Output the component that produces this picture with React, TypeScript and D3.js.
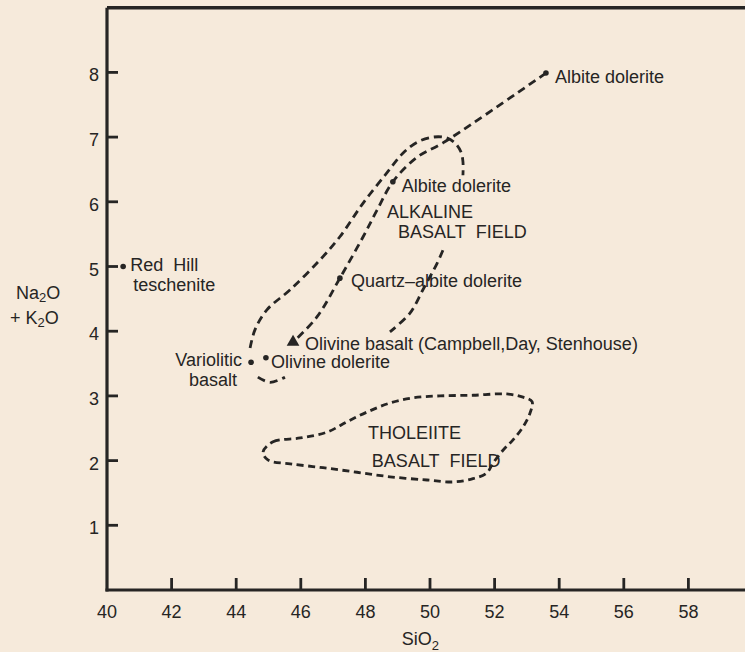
import React from "react";
import * as d3 from "d3";

// axis ticks
const siO2Ticks = [40, 42, 44, 46, 48, 50, 52, 54, 56, 58];
const alkaliTicks = [1, 2, 3, 4, 5, 6, 7, 8];

// analysed rocks (SiO2 %, Na2O + K2O %)
const sampleNames = [
  "Red Hill teschenite",
  "Albite dolerite",
  "Albite dolerite",
  "Quartz\u2013albite dolerite",
  "Olivine basalt (Campbell,Day, Stenhouse)",
  "Olivine dolerite",
  "Variolitic basalt",
];
const sampleSiO2 = [40.5, 53.59, 48.85, 47.21, 45.76, 44.92, 44.46];
const sampleAlkali = [5.0, 7.99, 6.31, 4.82, 3.83, 3.59, 3.52];
const sampleMarker = ["dot", "dot", "dot", "dot", "triangle", "dot", "dot"];

// dashed trend through the differentiated rocks
const trendLine: [number, number][] = [
  [53.59, 7.99], [50.4, 6.91], [49.6, 6.69], [48.85, 6.31], [48.36, 5.87],
  [47.93, 5.46], [47.21, 4.82], [46.5, 4.22], [45.76, 3.83],
];

// alkaline basalt field outline (broken where labels sit)
const alkalineLeft: [number, number][] = [
  [44.43, 3.74], [44.58, 4.02], [44.95, 4.33], [45.67, 4.64], [46.59, 5.1],
  [47.21, 5.46], [47.93, 5.98], [48.67, 6.45], [49.16, 6.75], [49.6, 6.92],
  [50.09, 7.0], [50.5, 6.99], [50.77, 6.91], [50.96, 6.77], [51.02, 6.62],
  [51.02, 6.41],
];
const alkalineRight: [number, number][] = [
  [50.4, 5.25], [50.22, 5.05], [49.78, 4.64], [49.38, 4.28], [48.76, 3.99],
];
const alkalineBottom: [number, number][] = [
  [44.67, 3.29], [45.05, 3.21], [45.51, 3.29],
];

// tholeiite basalt field outline (closed)
const tholeiiteField: [number, number][] = [
  [44.83, 2.13], [45.14, 2.29], [45.98, 2.35], [46.81, 2.44], [47.43, 2.6],
  [48.05, 2.75], [48.76, 2.89], [49.47, 2.97], [50.31, 3.0], [51.33, 3.01],
  [52.38, 3.03], [52.88, 2.98], [53.16, 2.91], [53.1, 2.74], [52.88, 2.52],
  [52.57, 2.32], [52.26, 2.16], [51.95, 1.96], [51.76, 1.81], [51.33, 1.72],
  [50.71, 1.67], [49.91, 1.7], [48.76, 1.75], [47.74, 1.82], [46.69, 1.89],
  [45.67, 1.95], [44.98, 2.01],
];

const width = 745;
const height = 652;
const ink = "#262524";
const font = "'Liberation Sans', Arial, sans-serif";

export default function App() {
  const x = d3.scaleLinear().domain([40, 60]).range([107, 753]);
  const y = d3.scaleLinear().domain([0, 9]).range([590, 7.7]);

  const open = d3
    .line<[number, number]>()
    .x((d) => x(d[0]))
    .y((d) => y(d[1]))
    .curve(d3.curveCatmullRom);
  const closed = d3
    .line<[number, number]>()
    .x((d) => x(d[0]))
    .y((d) => y(d[1]))
    .curve(d3.curveCatmullRomClosed);

  const triangle = d3.symbol(d3.symbolTriangle, 70)();

  // label offsets from each point (px)
  const offsets = [
    { dx: 7, dy: 4 },
    { dx: 9, dy: 9.5 },
    { dx: 9, dy: 10 },
    { dx: 11, dy: 9 },
    { dx: 12, dy: 8 },
    { dx: 5, dy: 10 },
    { dx: -9, dy: 3.5 },
  ];

  const dash = { fill: "none", stroke: ink, strokeWidth: 2.8, strokeDasharray: "8 5" };

  return (
    <svg
      width={width}
      height={height}
      style={{ position: "absolute", left: 0, top: 0, background: "#f6eadb" }}
      fontFamily={font}
      fontSize={18}
      fill={ink}
    >
      {/* frame: top line and axes */}
      <line x1={x(40)} x2={width} y1={y(9)} y2={y(9)} stroke={ink} strokeWidth={3.5} />
      <line x1={x(40)} x2={x(40)} y1={y(9)} y2={y(0) + 1.5} stroke={ink} strokeWidth={3.2} />
      <line x1={x(40) - 1.5} x2={width} y1={y(0)} y2={y(0)} stroke={ink} strokeWidth={3.2} />

      {siO2Ticks.map((t) => (
        <g key={"x" + t}>
          {t > 40 && (
            <line x1={x(t)} x2={x(t)} y1={y(0)} y2={y(0) - 12} stroke={ink} strokeWidth={2.8} />
          )}
          <text x={x(t)} y={y(0) + 28} textAnchor="middle">
            {t}
          </text>
        </g>
      ))}
      {alkaliTicks.map((t) => (
        <g key={"y" + t}>
          <line x1={x(40)} x2={x(40) + 11} y1={y(t)} y2={y(t)} stroke={ink} strokeWidth={2.8} />
          <text x={x(40) - 8} y={y(t) + 9} textAnchor="end">
            {t}
          </text>
        </g>
      ))}

      {/* axis titles */}
      <text x={x(49.7)} y={645} textAnchor="middle">
        SiO
        <tspan fontSize={13} dy={5}>2</tspan>
      </text>
      <text x={16} y={299}>
        Na
        <tspan fontSize={13} dy={3}>2</tspan>
        <tspan dy={-3}>O</tspan>
      </text>
      <text x={10} y={324}>
        + K
        <tspan fontSize={13} dy={3}>2</tspan>
        <tspan dy={-3}>O</tspan>
      </text>

      {/* fields and trend */}
      <path d={open(trendLine) ?? ""} {...dash} />
      <path d={open(alkalineLeft) ?? ""} {...dash} />
      <path d={open(alkalineRight) ?? ""} {...dash} />
      <path d={open(alkalineBottom) ?? ""} {...dash} />
      <path d={closed(tholeiiteField) ?? ""} {...dash} strokeDasharray="7 4.5" />

      <text x={x(48.67)} y={y(5.75)}>ALKALINE</text>
      <text x={x(49.01)} y={y(5.44)}>BASALT&#160;&#160;FIELD</text>
      <text x={x(48.08)} y={y(2.34)}>THOLEIITE</text>
      <text x={x(48.2)} y={y(1.9)}>BASALT&#160;&#160;FIELD</text>

      {/* samples */}
      {sampleNames.map((name, i) => {
        const px = x(sampleSiO2[i]);
        const py = y(sampleAlkali[i]);
        const o = offsets[i];
        let label: React.ReactNode = (
          <text x={px + o.dx} y={py + o.dy} textAnchor={o.dx < 0 ? "end" : "start"}>
            {name}
          </text>
        );
        if (name === "Red Hill teschenite") {
          label = (
            <text x={px + o.dx} y={py + o.dy}>
              Red&#160;&#160;Hill
              <tspan x={px + 10} dy={20}>teschenite</tspan>
            </text>
          );
        } else if (name === "Variolitic basalt") {
          label = (
            <>
              <text x={px + o.dx} y={py + o.dy} textAnchor="end">
                Variolitic
              </text>
              <text x={px - 14} y={py + o.dy + 20} textAnchor="end">
                basalt
              </text>
            </>
          );
        }
        return (
          <g key={i}>
            {sampleMarker[i] === "triangle" ? (
              <path d={triangle ?? ""} transform={`translate(${px},${py})`} fill={ink} />
            ) : (
              <circle cx={px} cy={py} r={2.8} fill={ink} />
            )}
            {label}
          </g>
        );
      })}
    </svg>
  );
}
